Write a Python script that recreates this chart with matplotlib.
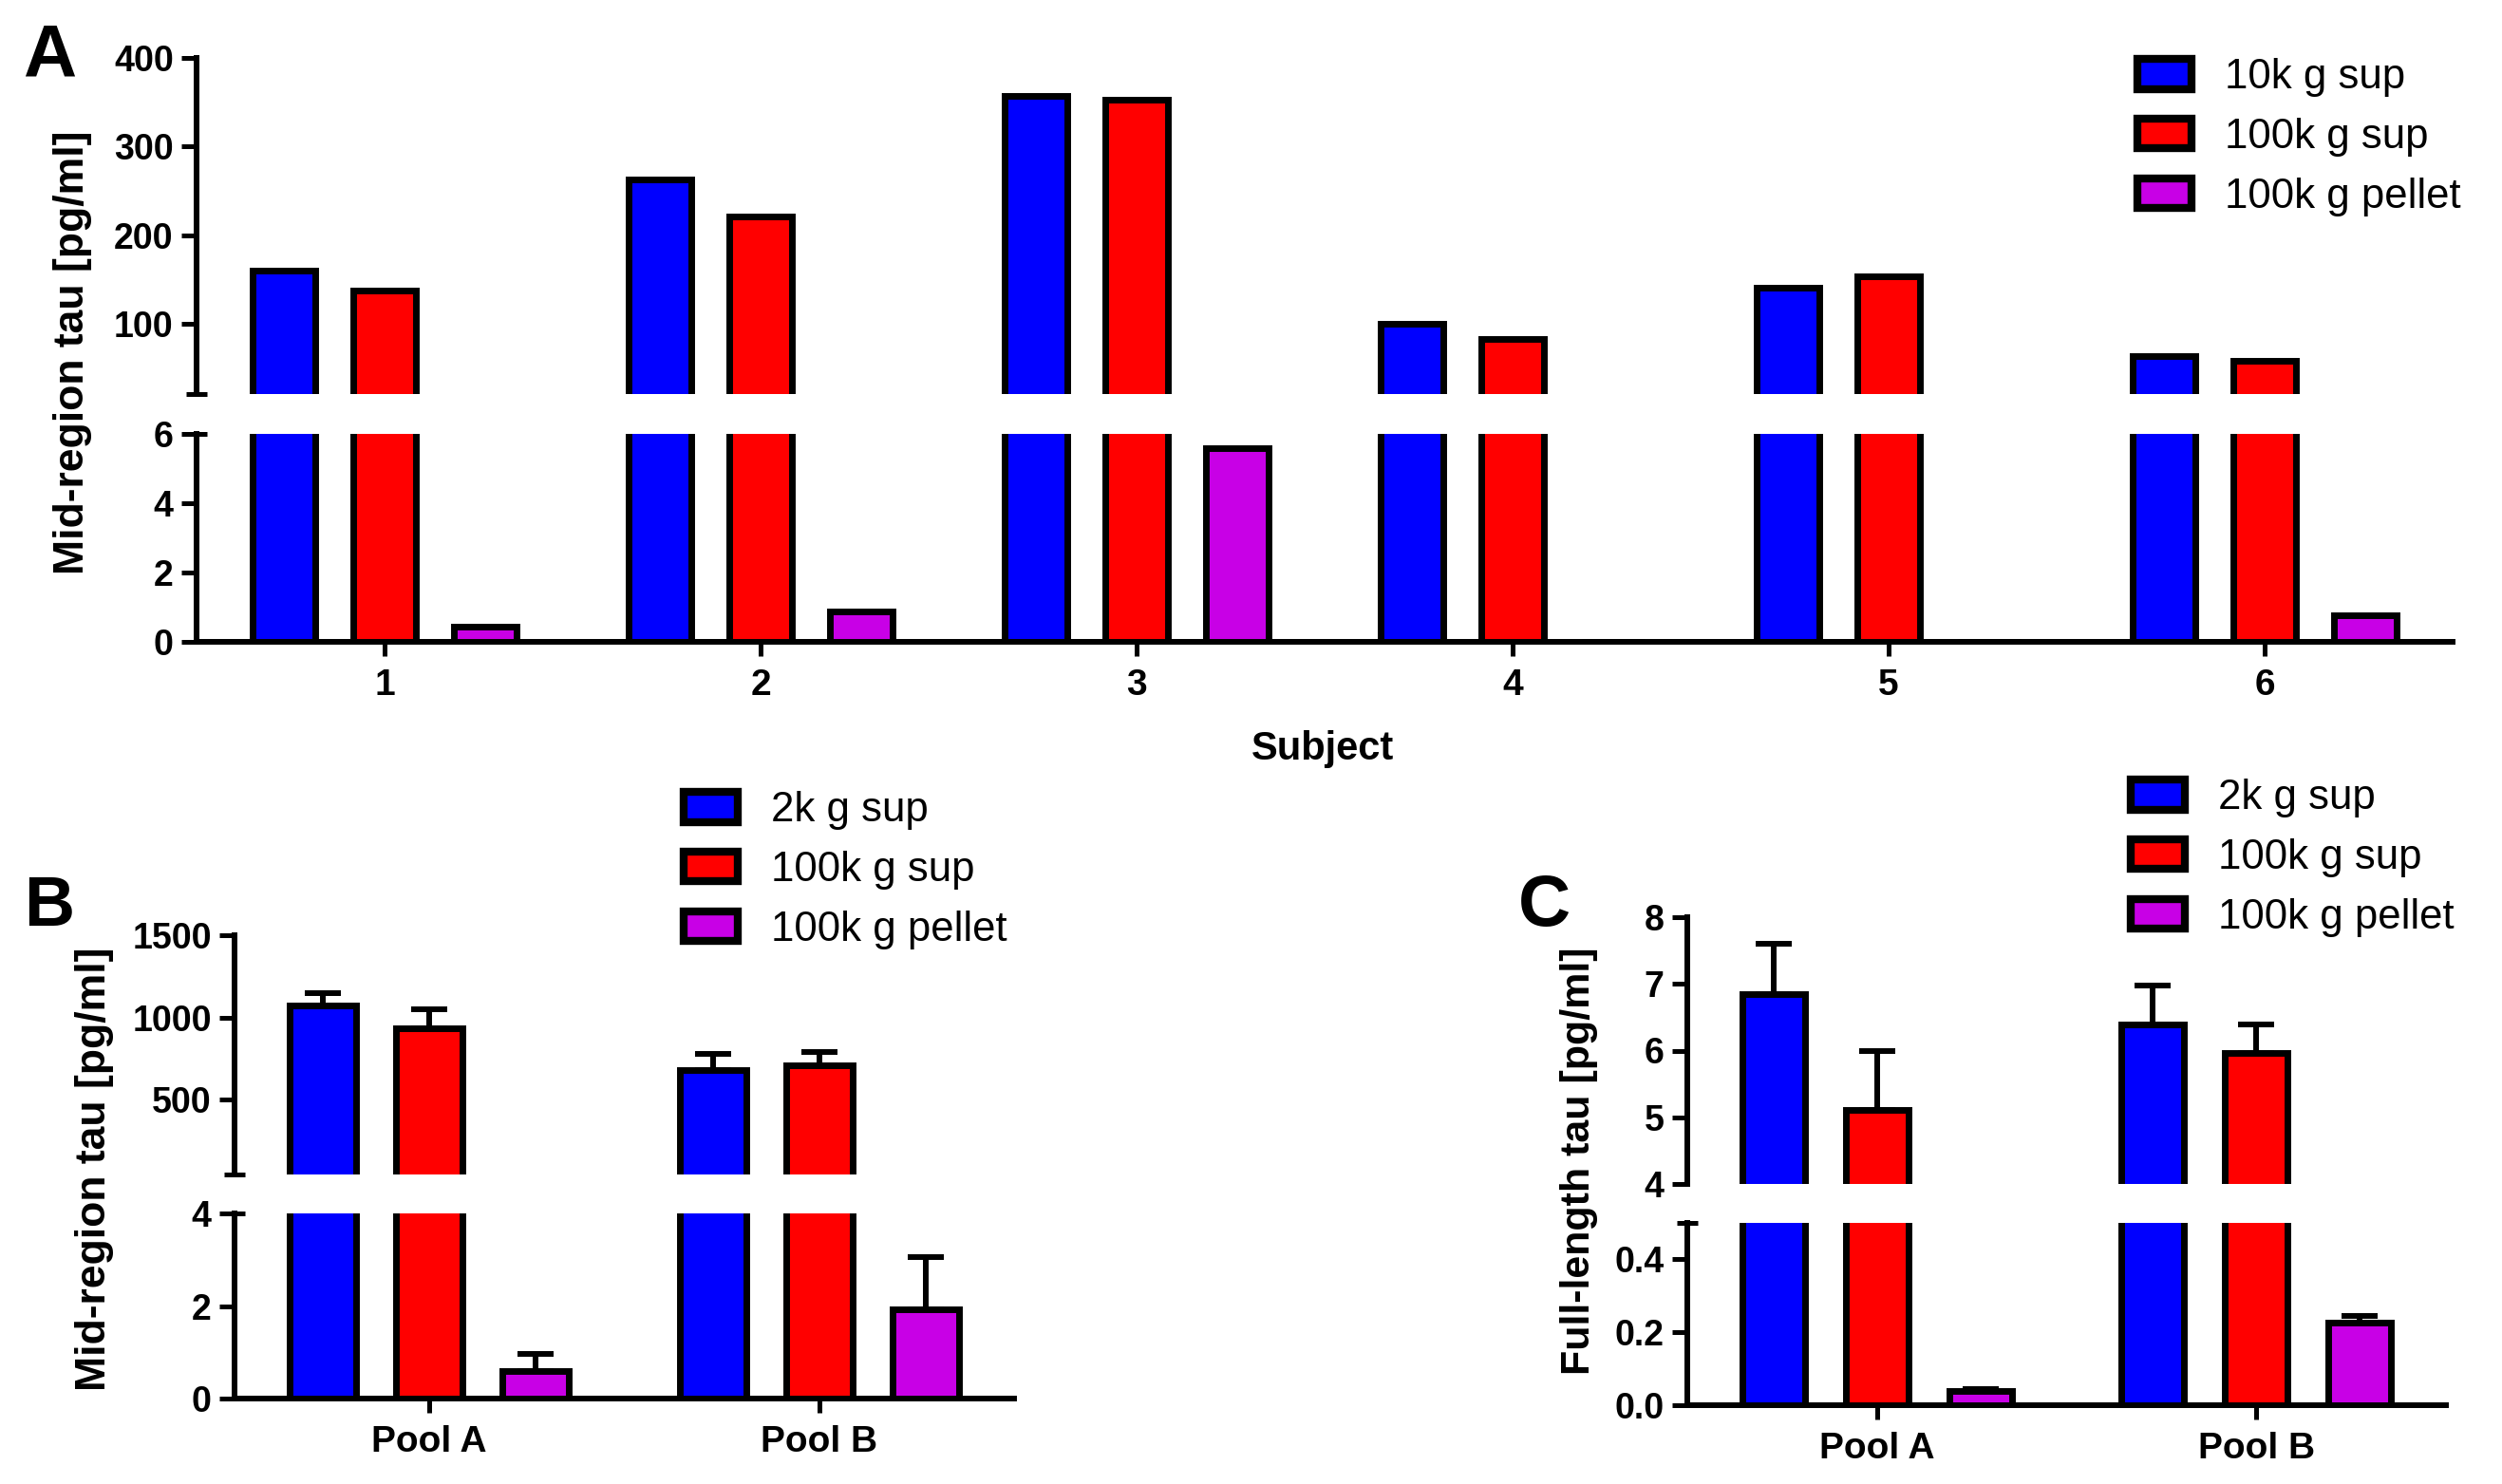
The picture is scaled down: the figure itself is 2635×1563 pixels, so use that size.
import numpy as np
import matplotlib
matplotlib.use("Agg")
import matplotlib.pyplot as plt

plt.rcParams['font.family'] = ['Liberation Sans', 'DejaVu Sans']

# ---------------- data ----------------
subjects = ['1', '2', '3', '4', '5', '6']
a_10k_sup = [160, 263, 357, 100, 141, 64]
a_100k_sup = [138, 221, 353, 83, 154, 58]
a_100k_pellet = [0.45, 0.88, 5.6, 0, 0, 0.77]
a_labels = ['10k g sup', '100k g sup', '100k g pellet']

pools = ['Pool A', 'Pool B']
b_2k_sup = [1075, 680]
b_2k_sup_err = [75, 100]
b_100k_sup = [937, 709]
b_100k_sup_err = [114, 80]
b_100k_pellet = [0.59, 1.92]
b_100k_pellet_err = [0.37, 1.14]

c_2k_sup = [6.85, 6.39]
c_2k_sup_err = [0.75, 0.59]
c_100k_sup = [5.11, 5.96]
c_100k_sup_err = [0.88, 0.43]
c_100k_pellet = [0.039, 0.226]
c_100k_pellet_err = [0.006, 0.019]
bc_labels = ['2k g sup', '100k g sup', '100k g pellet']

colors = ['#0000FF', '#FF0000', '#C800E6']

# ---------------- figure ----------------
W, H = 2635, 1563
DPI = 100
fig = plt.figure(figsize=(W / DPI, H / DPI), dpi=DPI)

SPINE_LW = 4.3
BAR_LW = 5.0
TICK_FS = 27
XTICK_FS = 28
LEG_FS = 31.5


def add_ax(x0, x1, ytop, ybot):
    return fig.add_axes([x0 / W, 1 - ybot / H, (x1 - x0) / W, (ybot - ytop) / H])


def style(ax, bottom_spine):
    for s in ['top', 'right']:
        ax.spines[s].set_visible(False)
    ax.spines['left'].set_linewidth(SPINE_LW)
    ax.spines['bottom'].set_linewidth(SPINE_LW)
    ax.spines['bottom'].set_visible(bottom_spine)
    ax.tick_params(axis='y', which='major', direction='out', length=11.5, width=3.6,
                   pad=6, labelsize=TICK_FS)
    ax.tick_params(axis='y', which='minor', direction='inout', length=16, width=3.6)
    for lab in ax.get_yticklabels():
        lab.set_fontweight('bold')
    if bottom_spine:
        ax.tick_params(axis='x', which='major', direction='out', length=11, width=3.6,
                       pad=9, labelsize=XTICK_FS)
        for lab in ax.get_xticklabels():
            lab.set_fontweight('bold')
    else:
        ax.tick_params(axis='x', which='both', bottom=False, labelbottom=False)
    ax.patch.set_alpha(0)


def draw_panel(up, lo, cats, series, errs, offset, width, xlim,
               up_lim, lo_lim, up_ticks, lo_ticks, lo_ticklabels,
               up_minor, lo_minor, capsize):
    x = np.arange(1, len(cats) + 1)
    handles = []
    for ax in (up, lo):
        for i, vals in enumerate(series):
            pos = x + (i - 1) * offset
            if errs is not None:
                ax.errorbar(pos, vals, yerr=[np.zeros(len(vals)), errs[i]], fmt='none',
                            ecolor='black', elinewidth=4.3, capsize=capsize,
                            capthick=4.3, zorder=2)
            b = ax.bar(pos, vals, width=width, color=colors[i], edgecolor='black',
                       linewidth=BAR_LW, zorder=3)
            if ax is lo:
                handles.append(b)
        ax.set_xlim(*xlim)
    up.set_ylim(*up_lim)
    lo.set_ylim(*lo_lim)
    up.set_yticks(up_ticks)
    up.set_yticklabels([str(t) for t in up_ticks])
    lo.set_yticks(lo_ticks)
    lo.set_yticklabels(lo_ticklabels)
    up.yaxis.remove_overlapping_locs = False
    lo.yaxis.remove_overlapping_locs = False
    if up_minor is not None:
        up.set_yticks([up_minor], minor=True)
    else:
        up.set_yticks([], minor=True)
    if lo_minor is not None:
        lo.set_yticks([lo_minor], minor=True)
    else:
        lo.set_yticks([], minor=True)
    lo.set_xticks(x)
    lo.set_xticklabels(cats)
    up.set_xticks([])
    style(up, False)
    style(lo, True)
    return handles


def add_legend(handles, labels, x_left, y_top):
    leg = fig.legend(handles, labels, loc='upper left',
                     bbox_to_anchor=(x_left / W, 1 - y_top / H),
                     bbox_transform=fig.transFigure,
                     frameon=False, fontsize=LEG_FS, borderpad=0, borderaxespad=0,
                     handlelength=1.3, handleheight=0.74, handletextpad=0.8,
                     labelspacing=0.5)
    for p in leg.get_patches():
        p.set_linewidth(6)
    return leg


# ---------- Panel A ----------
a_up = add_ax(207, 2583, 61, 415)
a_lo = add_ax(207, 2583, 457, 676)
hA = draw_panel(a_up, a_lo, subjects, [a_10k_sup, a_100k_sup, a_100k_pellet], None,
                0.268, 0.166, (0.5, 6.5), (21, 400), (0, 6),
                [100, 200, 300, 400], [0, 2, 4, 6], ['0', '2', '4', '6'],
                21, 6, 0)
add_legend(hA, a_labels, 2251, 61)

# ---------- Panel B ----------
b_up = add_ax(247, 1068, 985, 1237)
b_lo = add_ax(247, 1068, 1278, 1473)
hB = draw_panel(b_up, b_lo, pools, [b_2k_sup, b_100k_sup, b_100k_pellet],
                [b_2k_sup_err, b_100k_sup_err, b_100k_pellet_err],
                0.273, 0.17, (0.5, 2.5), (45, 1500), (0, 4),
                [500, 1000, 1500], [0, 2, 4], ['0', '2', '4'],
                45, 4, 14)
add_legend(hB, bc_labels, 720, 833)

# ---------- Panel C ----------
c_up = add_ax(1777, 2576, 966, 1247)
c_lo = add_ax(1777, 2576, 1288, 1480)
hC = draw_panel(c_up, c_lo, pools, [c_2k_sup, c_100k_sup, c_100k_pellet],
                [c_2k_sup_err, c_100k_sup_err, c_100k_pellet_err],
                0.2725, 0.165, (0.5, 2.5), (4, 8), (0, 0.5),
                [4, 5, 6, 7, 8], [0, 0.2, 0.4], ['0.0', '0.2', '0.4'],
                None, 0.5, 14)
add_legend(hC, bc_labels, 2244, 820)

# ---------- text ----------
fig.text(52, H - 80, 'A', transform=None, fontsize=56, fontweight='bold',
         ha='center', va='baseline')
fig.text(52, H - 975, 'B', transform=None, fontsize=53, fontweight='bold',
         ha='center', va='baseline')
fig.text(1627, H - 975, 'C', transform=None, fontsize=55, fontweight='bold',
         ha='center', va='baseline')

fig.text(77 / W, 1 - 371 / H, 'Mid-region tau [pg/ml]', rotation=90, fontsize=32,
         fontweight='bold', ha='center', va='center')
fig.text(100 / W, 1 - 1231 / H, 'Mid-region tau [pg/ml]', rotation=90, fontsize=32,
         fontweight='bold', ha='center', va='center')
fig.text(1663 / W, 1 - 1223 / H, 'Full-length tau [pg/ml]', rotation=90, fontsize=31,
         fontweight='bold', ha='center', va='center')
fig.text(1393 / W, 1 - 800 / H, 'Subject', fontsize=30, fontweight='bold',
         ha='center', va='baseline')

fig.savefig('out.png', dpi=DPI)
